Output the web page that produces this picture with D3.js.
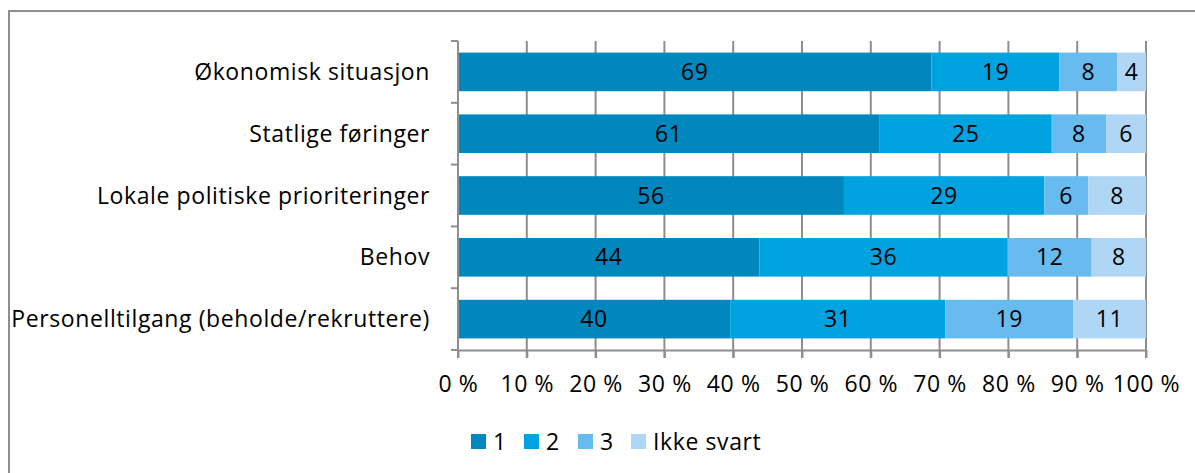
<!DOCTYPE html>
<html>
<head>
<meta charset="utf-8">
<title>Prioriteringer</title>
<style>
body { margin: 0; background: white; }
svg { display: block; font-family: "Open Sans", sans-serif; }
.grid line { stroke: #8e8e8e; stroke-width: 2px; }
.axis path, .axis line { stroke: #8e8e8e; stroke-width: 2px; }
text { letter-spacing: 0.6px; }
</style>
<script src="https://d3js.org/d3.v7.min.js"></script>
</head>
<body>
<svg width="1195" height="473"></svg>
<script>
const categories = [
  'Økonomisk situasjon',
  'Statlige føringer',
  'Lokale politiske prioriteringer',
  'Behov',
  'Personelltilgang (beholde/rekruttere)'
];
const seriesNames = ['1', '2', '3', 'Ikke svart'];
// shares in percent (labels show them rounded)
const s1 = [68.9, 61.3, 56.1, 43.8, 39.6];
const s2 = [18.6, 25.0, 29.1, 36.1, 31.3];
const s3 = [8.4, 7.9, 6.4, 12.2, 18.6];
const sIkke = [4.2, 5.8, 8.4, 7.9, 10.6];
const xTicks = [0, 10, 20, 30, 40, 50, 60, 70, 80, 90, 100];
const colors = ['#0087bd', '#00a2e0', '#67bbef', '#afd6f4'];

const rows = categories.map((c, i) => ({
  cat: c, '1': s1[i], '2': s2[i], '3': s3[i], 'Ikke svart': sIkke[i]
}));

const svg = d3.select('svg');
const fs = 23;

// outer frame (runs off the right and bottom edge)
svg.append('rect')
  .attr('x', 9).attr('y', 11)
  .attr('width', 1300).attr('height', 600)
  .attr('fill', 'none')
  .attr('stroke', '#8e8e8e')
  .attr('stroke-width', 2);

const margin = { left: 458, top: 41, right: 49, bottom: 123 };
const width = 1195 - margin.left - margin.right;
const height = 473 - margin.top - margin.bottom;
const g = svg.append('g').attr('transform', `translate(${margin.left},${margin.top})`);

const x = d3.scaleLinear().domain([0, 1]).range([0, width]);
const y = d3.scaleBand().domain(categories).range([0, height]).paddingInner(0.375).paddingOuter(0.1875);
const yEdges = d3.scaleBand().domain(categories).range([0, height]);

// gridlines behind the bars, running down past the axis as ticks
g.append('g').attr('class', 'grid')
  .selectAll('line')
  .data(xTicks.slice(1))
  .join('line')
  .attr('x1', d => x(d / 100)).attr('x2', d => x(d / 100))
  .attr('y1', 0).attr('y2', height + 8);

const stacked = d3.stack().keys(seriesNames).offset(d3.stackOffsetExpand)(rows);

const layers = g.append('g').selectAll('g')
  .data(stacked)
  .join('g')
  .attr('fill', (d, i) => colors[i]);

layers.selectAll('rect')
  .data(d => d.map(p => Object.assign(p, { key: d.key })))
  .join('rect')
  .attr('x', d => x(d[0]))
  .attr('y', d => y(d.data.cat))
  .attr('width', d => x(d[1]) - x(d[0]))
  .attr('height', y.bandwidth());

layers.selectAll('text')
  .data(d => d)
  .join('text')
  .attr('x', d => (x(d[0]) + x(d[1])) / 2)
  .attr('y', d => y(d.data.cat) + y.bandwidth() / 2)
  .attr('dy', '0.35em')
  .attr('text-anchor', 'middle')
  .attr('fill', '#000')
  .attr('font-size', fs)
  .text(d => Math.round(d.data[d.key]));

// x axis
const xAxis = g.append('g').attr('class', 'axis')
  .attr('transform', `translate(0,${height})`)
  .call(d3.axisBottom(x).tickValues(xTicks.map(v => v / 100)).tickSize(8).tickSizeOuter(0)
    .tickFormat(d => Math.round(d * 100) + ' %'));
xAxis.selectAll('text')
  .attr('font-size', fs).attr('fill', '#000')
  .attr('font-family', '"Open Sans", sans-serif')
  .attr('dy', '1.35em');

// y axis, ticks at the band edges
const yAxis = g.append('g').attr('class', 'axis');
yAxis.append('line').attr('x1', 0).attr('x2', 0).attr('y1', 0).attr('y2', height + 8);
yAxis.selectAll('line.tk')
  .data(categories.map(c => yEdges(c)).concat([height]))
  .join('line').attr('class', 'tk')
  .attr('x1', -7).attr('x2', 0)
  .attr('y1', d => d).attr('y2', d => d);
yAxis.selectAll('text')
  .data(categories)
  .join('text')
  .attr('x', -28)
  .attr('y', c => y(c) + y.bandwidth() / 2)
  .attr('dy', '0.35em')
  .attr('text-anchor', 'end')
  .attr('font-size', fs)
  .attr('fill', '#000')
  .text(c => c);

// legend
const legendX = [471, 524, 578, 631];
const legend = svg.append('g').selectAll('g')
  .data(seriesNames)
  .join('g')
  .attr('transform', (d, i) => `translate(${legendX[i]},434)`);
legend.append('rect').attr('width', 15).attr('height', 15).attr('fill', (d, i) => colors[i]);
legend.append('text')
  .attr('x', 22).attr('y', 7.5).attr('dy', '0.35em')
  .attr('font-size', fs).attr('fill', '#000')
  .text(d => d);
</script>
</body>
</html>
